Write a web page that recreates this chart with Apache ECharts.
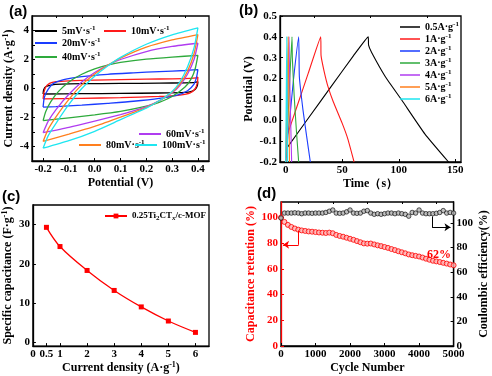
<!DOCTYPE html>
<html><head><meta charset="utf-8">
<script src="https://cdn.jsdelivr.net/npm/echarts@6/dist/echarts.min.js"></script>
<style>html,body{margin:0;padding:0;background:#fff}#c{width:492px;height:376px}</style>
</head><body><div id="c"></div>
<script>
// ---------- (a) CV curves: [potential V, current density A/g] loops ----------
const cvNames = ['5mV·s⁻¹','10mV·s⁻¹','20mV·s⁻¹','40mV·s⁻¹','60mV·s⁻¹','80mV·s⁻¹','100mV·s⁻¹'];
const cv5 = [[-0.2,-0.38],[-0.198,-0.1],[-0.19,0.12],[-0.17,0.24],[-0.13,0.3],[-0.05,0.33],[0.1,0.35],[0.25,0.37],[0.35,0.39],[0.39,0.42],[0.4,0.47],[0.398,0.2],[0.39,-0.05],[0.375,-0.2],[0.35,-0.27],[0.25,-0.31],[0.1,-0.34],[-0.05,-0.36],[-0.2,-0.38]];
const cv10 = [[-0.2,-0.72],[-0.197,-0.3],[-0.19,0.1],[-0.175,0.35],[-0.15,0.47],[-0.1,0.53],[0,0.58],[0.1,0.61],[0.2,0.64],[0.3,0.67],[0.37,0.7],[0.395,0.74],[0.4,0.78],[0.398,0.4],[0.39,0.0],[0.37,-0.3],[0.33,-0.45],[0.25,-0.55],[0.1,-0.63],[-0.05,-0.68],[-0.2,-0.72]];
const cv20 = [[-0.2,-1.28],[-0.195,-0.6],[-0.18,-0.05],[-0.16,0.35],[-0.12,0.62],[-0.05,0.82],[0.05,0.98],[0.15,1.08],[0.25,1.17],[0.35,1.24],[0.4,1.3],[0.395,0.8],[0.385,0.3],[0.36,-0.15],[0.32,-0.45],[0.25,-0.68],[0.15,-0.88],[0.05,-1.02],[-0.05,-1.15],[-0.15,-1.25],[-0.2,-1.28]];
const cv40 = [[-0.2,-2.22],[-0.19,-1.6],[-0.17,-0.9],[-0.14,-0.2],[-0.1,0.45],[-0.05,0.98],[0,1.35],[0.05,1.62],[0.1,1.8],[0.2,2.03],[0.3,2.17],[0.4,2.28],[0.39,1.4],[0.375,0.7],[0.35,0.1],[0.3,-0.55],[0.25,-0.95],[0.2,-1.22],[0.1,-1.58],[0,-1.82],[-0.1,-2.02],[-0.2,-2.22]];
const cv60 = [[-0.2,-3.05],[-0.18,-2.25],[-0.15,-1.45],[-0.1,-0.4],[-0.05,0.45],[0,1.1],[0.05,1.6],[0.1,2.0],[0.2,2.55],[0.3,2.9],[0.4,3.12],[0.385,2.0],[0.36,1.0],[0.33,0.2],[0.3,-0.3],[0.25,-0.85],[0.2,-1.25],[0.15,-1.55],[0.1,-1.8],[0,-2.25],[-0.1,-2.68],[-0.2,-3.05]];
const cv80 = [[-0.2,-3.65],[-0.18,-2.8],[-0.15,-1.95],[-0.1,-0.75],[-0.05,0.25],[0,1.0],[0.05,1.6],[0.1,2.1],[0.2,2.85],[0.3,3.35],[0.4,3.72],[0.385,2.4],[0.36,1.2],[0.33,0.3],[0.3,-0.25],[0.25,-0.85],[0.2,-1.3],[0.15,-1.65],[0.1,-1.98],[0,-2.62],[-0.1,-3.15],[-0.2,-3.65]];
const cv100 = [[-0.2,-4.12],[-0.18,-3.25],[-0.15,-2.4],[-0.1,-1.1],[-0.05,0.0],[0,0.85],[0.05,1.55],[0.1,2.15],[0.2,3.05],[0.3,3.7],[0.4,4.18],[0.385,2.8],[0.36,1.5],[0.33,0.45],[0.3,-0.2],[0.25,-0.85],[0.2,-1.35],[0.15,-1.75],[0.1,-2.15],[0,-2.95],[-0.1,-3.6],[-0.2,-4.12]];
const cvXLabels = [-0.2,-0.1,0,0.1,0.2,0.3,0.4];
const cvXMinor = [-0.15,-0.05,0.05,0.15,0.25,0.35];
const cvYLabels = [-4,-2,0,2,4];
const cvYTicks = [-4,-3,-2,-1,0,1,2,3,4];

// ---------- (b) GCD curves: [time s, potential V] ----------
const gcdNames = ['0.5A·g⁻¹','1A·g⁻¹','2A·g⁻¹','3A·g⁻¹','4A·g⁻¹','5A·g⁻¹','6A·g⁻¹'];
const gcd05 = [[1.5,-0.13],[20,0.01],[40,0.16],[60,0.31],[73,0.4],[73.3,0.36],[76,0.325],[88,0.21],[102.6,0.097],[123,-0.065],[144,-0.2]];
const gcd1 = [[1.5,-0.07],[10,0.066],[20,0.226],[31,0.4],[31.3,0.31],[34,0.235],[37.5,0.16],[42,0.09],[50,-0.015],[55,-0.09],[60.5,-0.2]];
const gcd2 = [[0.5,-0.18],[2,-0.07],[4,0.03],[7,0.2],[11.5,0.4],[12.1,0.21],[15.3,0.05],[18.5,-0.075],[21.8,-0.2]];
const gcd3 = [[0.3,-0.2],[1.5,-0.05],[3,0.12],[5.6,0.4],[5.9,0.3],[7.5,0.12],[9.5,-0.05],[11.5,-0.2]];
const gcd4 = [[0.2,-0.2],[1,-0.02],[3,0.4],[3.2,0.3],[4.2,0.05],[5.3,-0.2]];
const gcd5 = [[0.1,-0.2],[0.8,0.0],[2.2,0.4],[2.4,0.3],[2.9,0.05],[3.4,-0.2]];
const gcd6 = [[0,-0.2],[0.5,0.1],[1.0,0.4],[1.15,0.3],[1.4,0.05],[1.7,-0.2]];
const timeLabels = [0,50,100,150];
const timeMinor = [25,75,125];
const potLabels = [-0.2,-0.1,0,0.1,0.2,0.3,0.4,0.5];

// ---------- (c) specific capacitance ----------
const capName = '0.25Ti₂CTₓ/c-MOF';
const capCurrent = [0.5,1,2,3,4,5,6];
const capValues = [29.3,24.4,18.3,13.2,9.0,5.4,2.5];
const capXLabels = [0,0.5,1,2,3,4,5,6];
const capYLabels = [0,10,20,30];

// ---------- (d) cycling ----------
const cycles = [0,100,200,300,400,500,600,700,800,900,1000,1100,1200,1300,1400,1500,1600,1700,1800,1900,2000,2100,2200,2300,2400,2500,2600,2700,2800,2900,3000,3100,3200,3300,3400,3500,3600,3700,3800,3900,4000,4100,4200,4300,4400,4500,4600,4700,4800,4900,5000];
const retention = [100,96.5,94.2,92.6,91.4,90.5,89.9,89.5,89.1,88.9,88.6,88.3,88.1,87.9,88.2,87.7,86.4,85.6,85.0,84.2,83.4,82.6,81.6,80.7,79.8,79.6,79.7,79.0,78.3,77.7,77.0,76.3,75.4,74.6,73.7,72.9,72.1,71.2,70.6,70.1,69.6,68.8,67.9,67.1,66.3,65.8,65.3,64.7,64.1,63.4,62.8];
const coulombic = [104,108,108,108,108.2,108,107.5,108,108,107.8,108,108,108,108.5,109.5,110.5,108,107.8,108,109,110.5,108,107.8,108,109.5,110,108,107,107.5,107,107.5,108,108,107.5,108,107.5,107,105.5,108.5,108,110.5,108,107.5,107.5,107.5,107.8,108.5,110,108,108.5,108];
const cycleLabels = [0,1000,2000,3000,4000,5000];
const cycleMinor = [500,1500,2500,3500,4500];
const pctLabels = [0,20,40,60,80,100];

// ---------- styles ----------
const serif = '"Liberation Serif","Times New Roman",serif';
const colors = ['#000000','#ff1a1a','#1a3cff','#2eaa3c','#b03cf0','#ff7f1e','#1ee6f0'];
const richFmt = s => s.replace('⁻¹', '{sup|-1}').replace('₂', '{sub|2}').replace('ₓ', '{subi|x}');
const makeRich = (fs, lh, col) => ({
  sup: {fontFamily: serif, fontWeight: 'bold', fontSize: Math.round(fs * 0.7), color: col, verticalAlign: 'top', lineHeight: lh},
  sub: {fontFamily: serif, fontWeight: 'bold', fontSize: Math.round(fs * 0.7), color: col, verticalAlign: 'bottom', lineHeight: lh},
  subi: {fontFamily: serif, fontWeight: 'bold', fontStyle: 'italic', fontSize: Math.round(fs * 0.7), color: col, verticalAlign: 'bottom', lineHeight: lh}
});
const lblStyle = (c) => ({fontFamily: serif, fontWeight: 'bold', fontSize: 11, color: c || '#000', margin: 3});
const nameStyle = (c) => ({fontFamily: serif, fontWeight: 'bold', fontSize: 12, lineHeight: 14, color: c || '#000', rich: makeRich(12, 14, c || '#000')});
const legText = {fontFamily: serif, fontWeight: 'bold', fontSize: 10, color: '#000', lineHeight: 12, rich: makeRich(10, 12, '#000')};
const legTextSmall = {fontFamily: serif, fontWeight: 'bold', fontSize: 9, color: '#000', lineHeight: 12, rich: makeRich(10, 12, '#000')};

function mainAxis(grid, min, max, labels, ticks, fmt, name, gap, col, pos) {
  const c = col || '#000';
  const ax = {
    gridIndex: grid, type: 'value', min: min, max: max,
    axisLine: {show: true, onZero: false, lineStyle: {color: c, width: 1.3}},
    axisTick: {show: true, inside: true, length: 3, customValues: ticks, lineStyle: {color: c, width: 1}},
    axisLabel: Object.assign(lblStyle(c), {customValues: labels, formatter: fmt}),
    splitLine: {show: false},
    name: richFmt(name), nameLocation: 'middle', nameGap: gap, nameTextStyle: nameStyle(c)
  };
  if (pos) ax.position = pos;
  return ax;
}
function minorAxis(grid, min, max, ticks) {
  return {gridIndex: grid, type: 'value', min: min, max: max,
    axisLine: {show: false, onZero: false}, axisLabel: {show: false}, splitLine: {show: false},
    axisTick: {show: true, inside: true, length: 2, customValues: ticks, lineStyle: {color: '#000', width: 1}}};
}
const f1 = v => v.toFixed(1);
const fi = v => String(v);

const cvData = [cv5, cv10, cv20, cv40, cv60, cv80, cv100];
const gcdData = [gcd05, gcd1, gcd2, gcd3, gcd4, gcd5, gcd6];

const series = [];
cvData.forEach((d, i) => series.push({
  type: 'line', name: cvNames[i], xAxisIndex: 0, yAxisIndex: 0, data: d,
  symbol: 'none', showSymbol: false, smooth: 0.2,
  lineStyle: {color: colors[i], width: 1.3}, itemStyle: {color: colors[i]}
}));
gcdData.forEach((d, i) => series.push({
  type: 'line', name: gcdNames[i], xAxisIndex: 2, yAxisIndex: 1, data: d,
  symbol: 'none', showSymbol: false, smooth: 0.15,
  lineStyle: {color: colors[i], width: 1.1}, itemStyle: {color: colors[i]}
}));
series.push({
  type: 'line', name: capName, xAxisIndex: 4, yAxisIndex: 2,
  data: capCurrent.map((x, i) => [x, capValues[i]]),
  symbol: 'rect', symbolSize: 5, smooth: 0.35,
  lineStyle: {color: '#ff0000', width: 1.3}, itemStyle: {color: '#ff0000'}
});
series.push({
  type: 'scatter', name: 'Capacitance retention', xAxisIndex: 5, yAxisIndex: 3,
  data: cycles.map((x, i) => [x, retention[i]]),
  symbol: 'circle', symbolSize: 5,
  itemStyle: {color: '#ffb0b0', borderColor: '#ff0000', borderWidth: 1},
  markLine: {silent: true, symbolSize: 6, label: {show: false},
    lineStyle: {color: '#ff0000', width: 1, type: 'solid'},
    data: [
      [{coord: [510, 89.8], symbol: 'none'}, {coord: [510, 78.7], symbol: 'none'}],
      [{coord: [510, 78.7], symbol: 'none'}, {coord: [60, 78.7], symbol: 'arrow'}]
    ]},
  markPoint: {silent: true, symbol: 'circle', symbolSize: 1, itemStyle: {color: 'rgba(0,0,0,0)'},
    label: {show: true, position: 'inside', formatter: '62%', color: '#ff0000', fontFamily: serif, fontWeight: 'bold', fontSize: 12},
    data: [{coord: [4580, 71]}]}
});
series.push({
  type: 'scatter', name: 'Coulombic efficiency', xAxisIndex: 5, yAxisIndex: 4,
  data: cycles.map((x, i) => [x, coulombic[i]]),
  symbol: 'circle', symbolSize: 4.5,
  itemStyle: {color: '#b0b0b0', borderColor: '#000', borderWidth: 0.8},
  markLine: {silent: true, symbolSize: 6, label: {show: false},
    lineStyle: {color: '#000', width: 1, type: 'solid'},
    data: [
      [{coord: [4377, 105.3], symbol: 'none'}, {coord: [4377, 96.5], symbol: 'none'}],
      [{coord: [4377, 96.5], symbol: 'none'}, {coord: [4910, 96.5], symbol: 'arrow'}]
    ]}
});

const legBase = {orient: 'horizontal', icon: 'rect', itemWidth: 22, itemHeight: 2, itemGap: 0,
  textStyle: legText, selectedMode: false, padding: 0, formatter: richFmt};
const legends = [
  Object.assign({}, legBase, {data: [cvNames[0]], left: 35, top: 25}),
  Object.assign({}, legBase, {data: [cvNames[1]], left: 104, top: 25}),
  Object.assign({}, legBase, {data: [cvNames[2]], left: 35, top: 37}),
  Object.assign({}, legBase, {data: [cvNames[3]], left: 35, top: 51}),
  Object.assign({}, legBase, {data: [cvNames[4]], left: 139, top: 128}),
  Object.assign({}, legBase, {data: [cvNames[5]], left: 79, top: 139}),
  Object.assign({}, legBase, {data: [cvNames[6]], left: 135, top: 139}),
  Object.assign({}, legBase, {data: gcdNames, orient: 'vertical', left: 400, top: 21, itemWidth: 20, itemHeight: 1.5}),
  Object.assign({}, legBase, {data: [capName], left: 104, top: 210, itemWidth: 22, itemHeight: 6, textStyle: legTextSmall})
];
delete legends[8].icon;

const option = {
  animation: false,
  backgroundColor: '#fff',
  grid: [
    {left: 32, top: 16, width: 177, height: 145, show: true, borderColor: '#000', borderWidth: 1.3},
    {left: 280, top: 16, width: 181, height: 146, show: true, borderColor: '#000', borderWidth: 1.3},
    {left: 29, top: 205, width: 180, height: 144, show: true, borderColor: '#000', borderWidth: 1.3},
    {left: 281, top: 202, width: 179, height: 145, show: true, borderColor: '#000', borderWidth: 1.3}
  ],
  xAxis: [
    mainAxis(0, -0.243, 0.443, cvXLabels, cvXLabels, f1, 'Potential (V)', 15),
    minorAxis(0, -0.243, 0.443, cvXMinor),
    mainAxis(1, -5, 155, timeLabels, timeLabels, fi, 'Time（s）', 14),
    minorAxis(1, -5, 155, timeMinor),
    mainAxis(2, 0, 6.5, capXLabels, capXLabels, fi, 'Current density (A·g⁻¹)', 13),
    mainAxis(3, 0, 5000, cycleLabels, cycleLabels, fi, 'Cycle Number', 15),
    minorAxis(3, 0, 5000, cycleMinor)
  ],
  yAxis: [
    mainAxis(0, -5, 5, cvYLabels, cvYTicks, fi, 'Current density (A·g⁻¹)', 15),
    mainAxis(1, -0.2, 0.5, potLabels, potLabels, f1, 'Potential (V)', 22),
    mainAxis(2, -1, 35, capYLabels, capYLabels, fi, 'Specific capacitance (F·g⁻¹)', 14),
    mainAxis(3, 0, 112, pctLabels, pctLabels, fi, 'Capacitance retention (%)', 18, '#ff0000', 'left'),
    mainAxis(3, 0, 117, pctLabels, pctLabels, fi, 'Coulombic efficiency(%)', 19, '#000', 'right')
  ],
  legend: legends,
  series: series,
  graphic: [
    {type: 'text', left: 9, top: 4, style: {text: '(a)', font: 'bold 15px "Liberation Sans", Arial, sans-serif', fill: '#000'}},
    {type: 'text', left: 239, top: 3, style: {text: '(b)', font: 'bold 15px "Liberation Sans", Arial, sans-serif', fill: '#000'}},
    {type: 'text', left: 2, top: 189, style: {text: '(c)', font: 'bold 15px "Liberation Sans", Arial, sans-serif', fill: '#000'}},
    {type: 'text', left: 257, top: 186, style: {text: '(d)', font: 'bold 15px "Liberation Sans", Arial, sans-serif', fill: '#000'}}
  ]
};
const chart = echarts.init(document.getElementById('c'), null, {renderer: 'canvas'});
chart.setOption(option);
</script></body></html>
